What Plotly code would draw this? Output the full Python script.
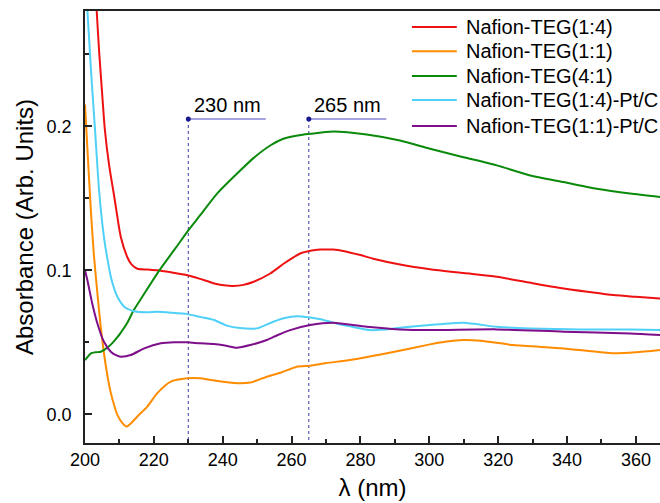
import plotly.graph_objects as go

# ---------------- data ----------------
series_names = ["Nafion-TEG(1:4)", "Nafion-TEG(1:1)", "Nafion-TEG(4:1)",
                "Nafion-TEG(1:4)-Pt/C", "Nafion-TEG(1:1)-Pt/C"]
series_colors = ["#ee1111", "#ff8c00", "#0a8a0a", "#4fd0f7", "#7d0f8a"]

wl_red = [203.0, 203.4, 204.1, 205.0, 205.75, 207.0, 208.5, 210.4, 212.3, 213.5, 215.2, 218.0,
          221.0, 225.0, 229.7, 233.4, 237.5, 241.0, 243.0, 246.0, 249.0, 253.8, 258.0, 262.5,
          265.5, 268.3, 272.0, 275.0, 280.0, 283.7, 291.5, 300.2, 310.0, 319.6, 330.0, 339.0,
          346.0, 353.4, 360.0, 367.0]
abs_red = [0.30, 0.28, 0.252, 0.222, 0.198, 0.173, 0.151, 0.123, 0.109, 0.104, 0.101, 0.1005,
           0.100, 0.0985, 0.0965, 0.094, 0.0908, 0.0893, 0.0891, 0.0898, 0.092, 0.0977, 0.105, 0.1116,
           0.1135, 0.1143, 0.1143, 0.1134, 0.1105, 0.108, 0.104, 0.1007, 0.098, 0.0954, 0.091, 0.0873,
           0.085, 0.0827, 0.0815, 0.0804]

wl_orange = [200.0, 200.8, 201.7, 202.6, 203.6, 204.5, 205.5, 206.5, 207.5, 208.5, 209.4, 210.8,
             212.1, 213.5, 215.2, 218.1, 221.0, 224.9, 229.7, 233.4, 236.5, 240.0, 244.1, 248.0,
             252.8, 257.0, 261.5, 265.4, 270.0, 277.0, 287.7, 300.2, 305.0, 309.9, 315.0, 324.4,
             339.0, 353.5, 360.0, 367.0]
abs_orange = [0.215, 0.18, 0.1416, 0.11, 0.084, 0.062, 0.0425, 0.027, 0.0148, 0.006, -0.0005, -0.006,
              -0.0086, -0.006, -0.0016, 0.0053, 0.0146, 0.0226, 0.0249, 0.025, 0.0238, 0.0225, 0.0215, 0.022,
              0.026, 0.029, 0.033, 0.0337, 0.0355, 0.0376, 0.0423, 0.0485, 0.0505, 0.0515, 0.051, 0.048,
              0.0457, 0.0423, 0.043, 0.0446]

wl_green = [200.0, 201.7, 203.0, 204.6, 206.5, 208.0, 209.4, 210.2, 212.3, 214.1, 216.5, 218.9,
            221.5, 223.9, 226.5, 230.0, 233.4, 238.3, 245.0, 249.0, 253.8, 257.6, 261.0, 265.4,
            272.1, 281.8, 291.5, 300.2, 309.9, 319.6, 329.3, 339.0, 348.6, 358.3, 367.0]
abs_green = [0.0376, 0.0423, 0.0430, 0.0434, 0.0462, 0.0495, 0.0535, 0.056, 0.0635, 0.072, 0.081, 0.090,
             0.0995, 0.1075, 0.116, 0.1277, 0.138, 0.153, 0.169, 0.178, 0.1866, 0.1913, 0.1932, 0.1947,
             0.1963, 0.1942, 0.190, 0.1843, 0.1785, 0.1728, 0.1658, 0.1612, 0.1566, 0.1532, 0.1508]

wl_cyan = [199.9, 200.7, 201.7, 202.9, 204.1, 205.5, 206.5, 207.5, 208.5, 209.4, 211.4, 214.3,
           218.0, 221.0, 225.0, 229.7, 233.4, 237.5, 241.2, 245.0, 249.9, 254.7, 258.0, 261.5,
           265.4, 268.5, 272.1, 277.0, 282.8, 287.0, 291.5, 300.2, 309.9, 319.6, 329.3, 343.8,
           358.3, 367.0]
abs_cyan = [0.30, 0.28, 0.24, 0.198, 0.155, 0.123, 0.108, 0.0954, 0.087, 0.0815, 0.0746, 0.0715,
            0.0708, 0.0711, 0.0705, 0.0695, 0.0676, 0.0654, 0.0615, 0.0598, 0.0596, 0.0642, 0.0668, 0.0681,
            0.0672, 0.0660, 0.0635, 0.061, 0.0584, 0.0588, 0.060, 0.0619, 0.0635, 0.0607, 0.0596, 0.0589,
            0.0589, 0.0585]

wl_purple = [200.0, 200.7, 202.1, 203.6, 205.5, 207.5, 209.0, 210.4, 213.3, 217.2, 222.0, 226.0,
             229.7, 233.4, 237.5, 241.0, 244.1, 248.0, 252.8, 256.0, 259.6, 265.4, 272.1, 281.8,
             291.5, 300.2, 319.6, 339.0, 358.3, 367.0]
abs_purple = [0.100, 0.093, 0.0769, 0.063, 0.0503, 0.0434, 0.0410, 0.0399, 0.0411, 0.0457, 0.0492, 0.0500,
              0.0499, 0.0492, 0.0487, 0.0475, 0.0462, 0.0480, 0.0515, 0.0550, 0.0584, 0.0619, 0.0635, 0.0607,
              0.0589, 0.0584, 0.0589, 0.0573, 0.0561, 0.055]

peak_wl = [230, 265]
peak_labels = ["230 nm", "265 nm"]
marker_abs = 0.205
label_abs = 0.2145
bar_len_nm = 22.5
axis_floor = -0.02

x_range = [200, 367]
y_range = [-0.02, 0.28]
x_tick_vals = [200, 220, 240, 260, 280, 300, 320, 340, 360]
y_tick_vals = [0.0, 0.1, 0.2]

# ---------------- figure ----------------
FONT = "Arial, 'Liberation Sans', sans-serif"
fig = go.Figure()

all_x = [wl_red, wl_orange, wl_green, wl_cyan, wl_purple]
all_y = [abs_red, abs_orange, abs_green, abs_cyan, abs_purple]

# annotation guide lines (behind data)
for p in peak_wl:
    fig.add_trace(go.Scatter(x=[p, p], y=[marker_abs, axis_floor], mode="lines",
                             line=dict(color="#3a3aa8", width=1, dash="dot"),
                             showlegend=False, hoverinfo="skip"))
    fig.add_trace(go.Scatter(x=[p, p + bar_len_nm], y=[marker_abs, marker_abs], mode="lines",
                             line=dict(color="#4848c0", width=1),
                             showlegend=False, hoverinfo="skip"))
    fig.add_trace(go.Scatter(x=[p], y=[marker_abs], mode="markers",
                             marker=dict(color="#1a1a90", size=5),
                             showlegend=False, hoverinfo="skip"))

for name, col, xs, ys in zip(series_names, series_colors, all_x, all_y):
    fig.add_trace(go.Scatter(x=xs, y=ys, mode="lines", name=name, showlegend=False,
                             line=dict(color=col, width=2, shape="spline", smoothing=0.6)))

for p, lab in zip(peak_wl, peak_labels):
    fig.add_annotation(x=p + bar_len_nm / 2, y=label_abs, text=lab, showarrow=False,
                       xanchor="center", yanchor="middle",
                       font=dict(family=FONT, size=20, color="#000000"))

# legend (keys + text in paper coordinates, to match the reference's tight row spacing)
leg_x0, leg_x1, leg_tx = 0.5686, 0.6466, 0.6592
leg_rows = [0.963, 0.907, 0.8495, 0.794, 0.7338]
for name, col, yy in zip(series_names, series_colors, leg_rows):
    fig.add_shape(type="line", xref="paper", yref="paper", x0=leg_x0, x1=leg_x1, y0=yy, y1=yy,
                  line=dict(color=col, width=2))
    fig.add_annotation(xref="paper", yref="paper", x=leg_tx, y=yy, text=name, showarrow=False,
                       xanchor="left", yanchor="middle", align="left",
                       font=dict(family=FONT, size=20, color="#000000"))

fig.update_layout(
    width=660, height=503,
    margin=dict(l=85, r=0, t=11, b=60),
    paper_bgcolor="white", plot_bgcolor="white",
    font=dict(family=FONT, color="#000000"),
    showlegend=False,
    xaxis=dict(range=x_range, tickvals=x_tick_vals, ticks="inside", ticklen=7, tickwidth=1.5,
               tickcolor="#222222", showline=True, linecolor="#222222", linewidth=1.5,
               mirror=True, showgrid=False, zeroline=False,
               minor=dict(dtick=10, ticks="inside", ticklen=4, tickwidth=1.5, tickcolor="#222222"),
               tickfont=dict(family=FONT, size=18, color="#000000"),
               title=dict(text="λ (nm)", font=dict(family=FONT, size=24, color="#000000"), standoff=10)),
    yaxis=dict(range=y_range, tickvals=y_tick_vals, tickformat=".1f", ticks="inside", ticklen=7,
               tickwidth=1.5, tickcolor="#222222", showline=True, linecolor="#222222", linewidth=1.5,
               showgrid=False, zeroline=False, ticklabelstandoff=8,
               minor=dict(dtick=0.05, ticks="inside", ticklen=4, tickwidth=1.5, tickcolor="#222222"),
               tickfont=dict(family=FONT, size=18, color="#000000"),
               title=dict(text="Absorbance (Arb. Units)", font=dict(family=FONT, size=24, color="#000000"),
                          standoff=6)),
)

fig.write_html("out.html")
